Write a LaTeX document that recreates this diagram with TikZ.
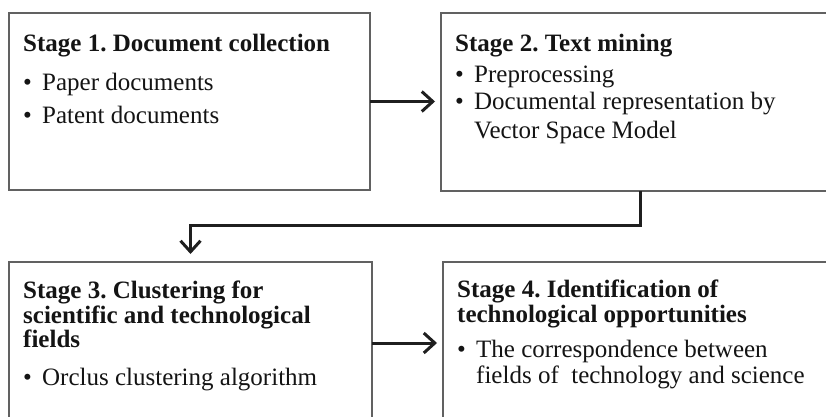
\documentclass[tikz,border=0pt]{standalone}
\usepackage{fontspec}
\setmainfont{Liberation Serif}
\usetikzlibrary{arrows.meta,calc}
\frenchspacing
% bullet item: dot followed by the indented text
\newcommand\bulitem[1]{\makebox[19pt][l]{•}#1}
\begin{document}
\begin{tikzpicture}[x=1pt,y=-1pt,
  stagebox/.style={draw=black!62, line width=1.1pt, fill=white, anchor=north west, outer sep=0pt, inner sep=0pt},
  conn/.style={draw=black!88, line width=3pt, -{Straight Barb[length=11pt,width=20pt]}, shorten >=6pt},
  head/.style={anchor=base west, inner sep=0pt, font=\fontsize{25}{30}\selectfont\bfseries, text=black!92},
  body/.style={anchor=base west, inner sep=0pt, font=\fontsize{25}{30}\selectfont, text=black!92}]
\clip (0,0) rectangle (826,417);

% stage boxes
\node[stagebox, minimum width=361pt, minimum height=177pt] (b1) at (9,13) {};
\node[stagebox, minimum width=399pt, minimum height=178pt] (b2) at (441,13) {};
\node[stagebox, minimum width=363pt, minimum height=162pt] (b3) at (9,262) {};
\node[stagebox, minimum width=397pt, minimum height=162pt] (b4) at (443,262) {};

% stage 1
\node[head] (t1) at (23,52) {Stage 1. Document collection};
\node[body] (t1a) at (23,91) {\bulitem{Paper documents}};
\node[body] (t1b) at (23,123) {\bulitem{Patent documents}};

% stage 2
\node[head] (t2) at (455,52) {Stage 2. Text mining};
\node[body] (t2a) at (455,83) {\bulitem{Preprocessing}};
\node[body] (t2b) at (455,110) {\bulitem{Documental representation by}};
\node[body] (t2c) at (474,138) {Vector Space Model};

% stage 3
\node[head] (t3) at (23,298) {Stage 3. Clustering for};
\node[head] (t3b) at (23,323) {scientific and technological};
\node[head] (t3c) at (23,347) {fields};
\node[body] (t3a) at (23,385) {\bulitem{Orclus clustering algorithm}};

% stage 4
\node[head] (t4) at (457,297) {Stage 4. Identification of};
\node[head] (t4b) at (457,322) {technological opportunities};
\node[body] (t4a) at (457,357) {\bulitem{The correspondence between}};
\node[body] (t4c) at (476,383) {fields of\ \ technology and science};

% flow between stages
\draw[conn] (b1.east) -- (b1.east -| b2.west);
\draw[conn] (b3.east) -- (b4.west);
\draw[conn, shorten >=8pt] (b2.south) -- ++(0,34) -| (b3.north);
\end{tikzpicture}
\end{document}
